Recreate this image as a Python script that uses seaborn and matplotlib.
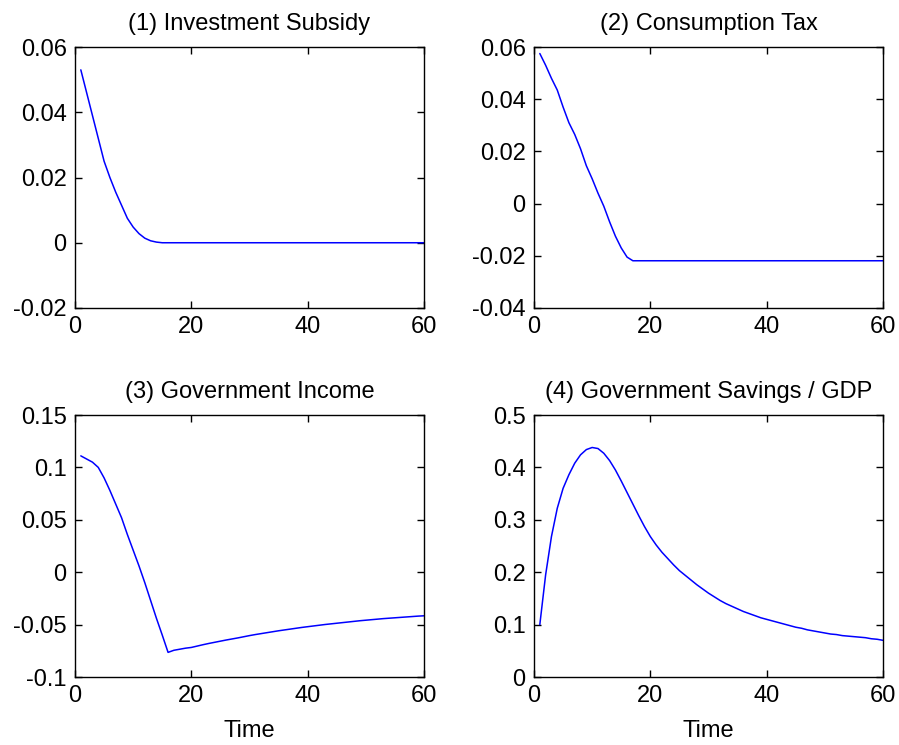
import numpy as np
import pandas as pd
import matplotlib
matplotlib.use("Agg")
import matplotlib.pyplot as plt
import seaborn as sns

time = list(range(1, 61))

investment_subsidy = [0.053, 0.046, 0.039, 0.032, 0.025, 0.020, 0.0155, 0.0115, 0.0075, 0.0048,
                      0.0028, 0.0014, 0.0006, 0.0002, 0.0] + [0.0] * 45

consumption_tax = [0.0575, 0.053, 0.048, 0.0435, 0.037, 0.031, 0.0265, 0.021, 0.0145, 0.0095,
                   0.004, -0.001, -0.007, -0.0125, -0.017, -0.0205, -0.0219] + [-0.0219] * 43

government_income = [0.111, 0.108, 0.105, 0.100, 0.090, 0.078, 0.065, 0.052, 0.036, 0.021,
                     0.006, -0.010, -0.027, -0.044, -0.060, -0.0765, -0.0745, -0.0735, -0.0725, -0.0718,
                     -0.0705, -0.0692, -0.0680, -0.0669, -0.0658, -0.0647, -0.0637, -0.0627, -0.0616, -0.0605,
                     -0.0595, -0.0586, -0.0577, -0.0568, -0.0559, -0.0551, -0.0543, -0.0535, -0.0527, -0.0520,
                     -0.0513, -0.0506, -0.0499, -0.0493, -0.0487, -0.0481, -0.0475, -0.0469, -0.0463, -0.0458,
                     -0.0453, -0.0448, -0.0443, -0.0439, -0.0435, -0.0431, -0.0427, -0.0423, -0.0419, -0.0416]

government_savings_gdp = [0.100, 0.195, 0.268, 0.322, 0.360, 0.386, 0.408, 0.424, 0.434, 0.438,
                          0.436, 0.427, 0.413, 0.395, 0.374, 0.352, 0.330, 0.308, 0.287, 0.268,
                          0.252, 0.238, 0.226, 0.214, 0.203, 0.194, 0.185, 0.176, 0.168, 0.160,
                          0.153, 0.146, 0.140, 0.135, 0.130, 0.125, 0.121, 0.117, 0.113, 0.110,
                          0.107, 0.104, 0.101, 0.098, 0.095, 0.093, 0.090, 0.088, 0.086, 0.084,
                          0.082, 0.081, 0.079, 0.078, 0.077, 0.076, 0.075, 0.073, 0.072, 0.070]

titles = ["(1) Investment Subsidy", "(2) Consumption Tax",
          "(3) Government Income", "(4) Government Savings / GDP"]
series = [investment_subsidy, consumption_tax, government_income, government_savings_gdp]
ylims = [(-0.02, 0.06), (-0.04, 0.06), (-0.1, 0.15), (0, 0.5)]
yticks = [[-0.02, 0, 0.02, 0.04, 0.06],
          [-0.04, -0.02, 0, 0.02, 0.04, 0.06],
          [-0.1, -0.05, 0, 0.05, 0.1, 0.15],
          [0, 0.1, 0.2, 0.3, 0.4, 0.5]]
ytick_labels = [["-0.02", "0", "0.02", "0.04", "0.06"],
                ["-0.04", "-0.02", "0", "0.02", "0.04", "0.06"],
                ["-0.1", "-0.05", "0", "0.05", "0.1", "0.15"],
                ["0", "0.1", "0.2", "0.3", "0.4", "0.5"]]
xticks = [0, 20, 40, 60]

sns.set_style("ticks")
plt.rcParams['font.family'] = ['Liberation Sans', 'DejaVu Sans']
plt.rcParams['text.color'] = 'black'
plt.rcParams['xtick.color'] = 'black'
plt.rcParams['ytick.color'] = 'black'
plt.rcParams['axes.labelcolor'] = 'black'

fig = plt.figure(figsize=(8.99, 7.45), dpi=100)
W, H = 899, 745
boxes = [(75, 47, 349, 261), (534, 47, 349, 261), (75, 415, 349, 262), (534, 415, 349, 262)]
fs = 17

for i, (x0, y0, w, h) in enumerate(boxes):
    ax = fig.add_axes([x0 / W, 1 - (y0 + h) / H, w / W, h / H])
    df = pd.DataFrame({"Time": time, "value": series[i]})
    sns.lineplot(data=df, x="Time", y="value", ax=ax, color=(0, 0, 1), linewidth=1.1)
    ax.set_xlim(0, 60)
    ax.set_ylim(*ylims[i])
    ax.set_xticks(xticks)
    ax.set_xticklabels([str(t) for t in xticks], fontsize=fs)
    ax.set_yticks(yticks[i])
    ax.set_yticklabels(ytick_labels[i], fontsize=fs)
    ax.tick_params(direction="in", top=True, right=True, length=5, width=1,
                   color="black", labelcolor="black", pad=6)
    for s in ax.spines.values():
        s.set_visible(True)
        s.set_color("black")
        s.set_linewidth(1.0)
    ax.set_title(titles[i], fontsize=fs, pad=12, color="black")
    ax.set_ylabel("")
    if i >= 2:
        ax.set_xlabel("Time", fontsize=fs, labelpad=9, color="black")
    else:
        ax.set_xlabel("")

fig.savefig("out.png", dpi=100, facecolor="white")
